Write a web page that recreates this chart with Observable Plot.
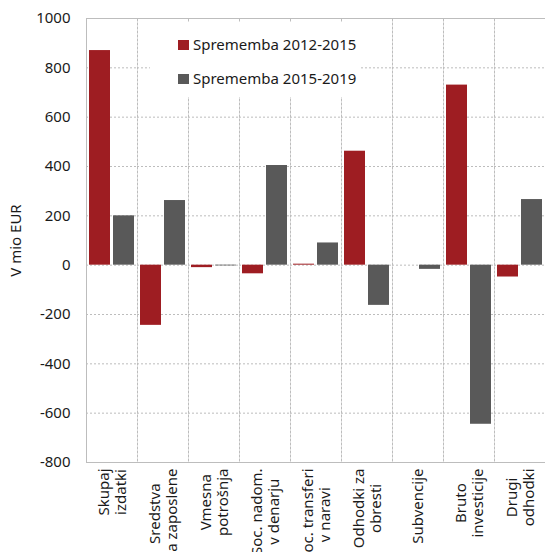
<!DOCTYPE html>
<html>
<head>
<meta charset="utf-8">
<script src="https://cdn.jsdelivr.net/npm/d3@7"></script>
<script src="https://cdn.jsdelivr.net/npm/@observablehq/plot@0.6"></script>
<style>
  html, body { margin: 0; padding: 0; background: #fff; overflow: hidden; }
  #wrap { position: relative; width: 548px; height: 552px; font-family: "Noto Sans", sans-serif; }
  #wrap svg { max-width: none !important; }
  .legend { position: absolute; left: 150px; top: 22px; width: 210px; height: 75px; background: #fff; padding-left: 28px; padding-top: 5px; box-sizing: border-box; }
  .legend .item { height: 34px; line-height: 34px; font-size: 15px; color: #1a1a1a; white-space: nowrap; }
  .legend .sw { display: inline-block; width: 11px; height: 10px; margin-right: 4px; vertical-align: baseline; }
</style>
</head>
<body>
<div id="wrap"></div>
<script>
const categories = ["Skupaj\nizdatki", "Sredstva\nza zaposlene", "Vmesna\npotrošnja", "Soc. nadom.\nv denarju", "Soc. transferi\nv naravi", "Odhodki za\nobresti", "Subvencije", "Bruto\ninvesticije", "Drugi\nodhodki"];
const seriesNames = ["Sprememba 2012-2015", "Sprememba 2015-2019"];
const change2012_2015 = [870, -244, -10, -35, 4, 462, 0, 730, -48];
const change2015_2019 = [200, 262, -3, 404, 90, -163, -17, -645, 266];
const seriesColors = ["#9e1d22", "#595959"];
const yTicks = [-800, -600, -400, -200, 0, 200, 400, 600, 800, 1000];

const data = categories.flatMap((c, i) => [
  {category: c, series: seriesNames[0], value: change2012_2015[i]},
  {category: c, series: seriesNames[1], value: change2015_2019[i]}
]);

// measure label widths to center-align multi-line rotated labels
const ctx = document.createElement("canvas").getContext("2d");
ctx.font = "15px 'Noto Sans'";
const labelMarks = categories.map(c => {
  const w = Math.max(...c.split("\n").map(s => ctx.measureText(s).width));
  return Plot.text([{category: c}], {
    fx: "category", text: "category", frameAnchor: "bottom",
    rotate: -90, textAnchor: "middle", lineAnchor: "middle", lineHeight: 1.12,
    dy: 6 + w / 2, fontSize: 15, fill: "#1a1a1a"
  });
});

const grid = "#bdbdbd";
const chart = Plot.plot({
  width: 548, height: 552,
  marginLeft: 83, marginRight: 0, marginTop: 18, marginBottom: 90,
  style: {fontFamily: "Noto Sans", fontSize: "15px", color: "#1a1a1a", background: "#fff", overflow: "visible"},
  fx: {domain: categories, padding: 0, axis: null},
  x: {domain: seriesNames, padding: 0.12, axis: null},
  y: {domain: [-800, 1000]},
  color: {domain: seriesNames, range: seriesColors},
  marks: [
    Plot.gridY(yTicks, {stroke: grid, strokeOpacity: 1, strokeDasharray: "2,2"}),
    Plot.frame({stroke: grid, strokeDasharray: "2,2"}),
    Plot.ruleY([-800, 1000], {stroke: grid}),
    Plot.frame({anchor: "left", facetAnchor: "left", stroke: grid}),
    Plot.barY(data, {fx: "category", x: "series", y: "value", fill: "series"}),
    Plot.axisY(yTicks, {tickSize: 0, tickPadding: 16, fontSize: 15, tickFormat: d => String(d), label: "V mio EUR", labelAnchor: "center", labelArrow: "none", labelOffset: 76}),
    ...labelMarks
  ]
});
const wrap = document.getElementById("wrap");
wrap.appendChild(chart);

const legend = document.createElement("div");
legend.className = "legend";
seriesNames.forEach((s, i) => {
  const item = document.createElement("div");
  item.className = "item";
  const sw = document.createElement("span");
  sw.className = "sw";
  sw.style.background = seriesColors[i];
  item.appendChild(sw);
  item.appendChild(document.createTextNode(s));
  legend.appendChild(item);
});
wrap.appendChild(legend);
</script>
</body>
</html>
